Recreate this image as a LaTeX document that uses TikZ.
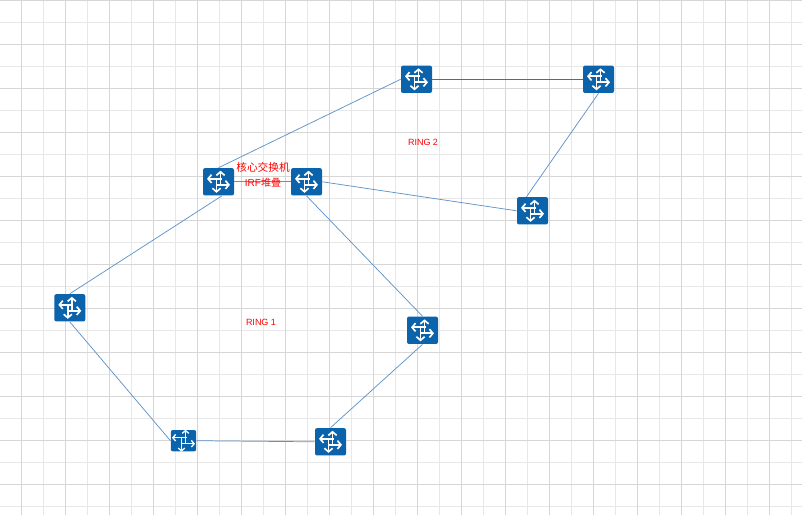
\documentclass[tikz,border=0pt]{standalone}
\usepackage{fontspec}
\setmainfont{Liberation Sans}
\newfontfamily\cjk{Noto Sans CJK SC}
\usetikzlibrary{arrows.meta}
\newcommand{\switchicon}[2]{%
\begin{scope}[shift={(path picture bounding box.center)},scale=#1,white,line width=#2,->,>={Straight Barb[length=0pt 2.08,width=0pt 4.96]}]
\draw (2,3) -- (2,-11);
\draw (-2,3) -- (11.5,3);
\draw (-2,-3) -- (-2,11);
\draw (3,-3) -- (-11.5,-3);
\end{scope}}

\begin{document}
\begin{tikzpicture}[x=0.75pt,y=-0.75pt,semithick]
\tikzstyle{switchbox}=[fill=switchblue,rounded corners=1.5pt,inner sep=0pt]
\tikzstyle{switch}=[switchbox,minimum width=23.25pt,minimum height=20.5pt,path picture={\switchicon{1}{1.25pt}}]
\tikzstyle{smallswitch}=[switchbox,minimum width=19pt,minimum height=16pt,path picture={\switchicon{0.78}{1pt}}]
\tikzstyle{link}=[draw=linkblue,line width=0.55pt]
\tikzstyle{note}=[text=red,font=\fontsize{6.75pt}{8pt}\selectfont,inner sep=0pt]
\definecolor{switchblue}{HTML}{0B63AC}
\definecolor{linkblue}{HTML}{5F93C8}
\definecolor{griddark}{HTML}{D6D6D6}
\definecolor{gridlight}{HTML}{E8E8E8}
\useasboundingbox (0,0) rectangle (802,515);
\fill[white] (0,0) rectangle (802,515);
% grid
\foreach \x in {43.7,87.7,...,800} \draw[gridlight,line width=0.7pt] (\x,0) -- (\x,515);
\foreach \y in {22.4,66.4,...,515} \draw[gridlight,line width=0.7pt] (0,\y) -- (802,\y);
\foreach \x in {21.7,65.7,...,800} \draw[griddark,line width=0.7pt] (\x,0) -- (\x,515);
\foreach \y in {0.4,44.4,...,515} \draw[griddark,line width=0.7pt] (0,\y) -- (802,\y);
% switches
\node[switch] (1) at (416.5,79.3) {};
\node[switch] (2) at (598.5,79.3) {};
\node[switch] (3) at (218.5,181.8) {};
\node[switch] (4) at (306.5,181.8) {};
\node[switch] (5) at (532.5,210.8) {};
\node[switch] (6) at (69.8,307.8) {};
\node[switch] (7) at (422.5,330.3) {};
\node[switch] (8) at (330.5,441.8) {};
\node[smallswitch] (9) at (183.5,440.7) {};
\path[link] (1.west) edge (3.north)
      (3.east) edge (4.west)
      ([xshift=2.5pt]3.south) edge (6.north)
      (6.south) edge (9.west)
      (9.east) edge (8.west)
      (8.north) edge (7.south)
      (7.north) edge (4.south)
      (4.east) edge (5.west)
      ([xshift=-4.5pt]5.north) edge (2.south);
\draw[draw=black!25!linkblue,line width=0.55pt] (1.east) -- (2.west);
% labels
\node[note,font=\fontsize{8pt}{9pt}\selectfont\cjk] (core) at (263,167) {核心交换机};
\node[note,font=\fontsize{7.5pt}{9pt}\selectfont] (irf) at (263,183) {IRF{\cjk 堆叠}};
\node[note] (ring1) at (261,322) {RING 1};
\node[note] (ring2) at (423,142) {RING 2};
\end{tikzpicture}
\end{document}
